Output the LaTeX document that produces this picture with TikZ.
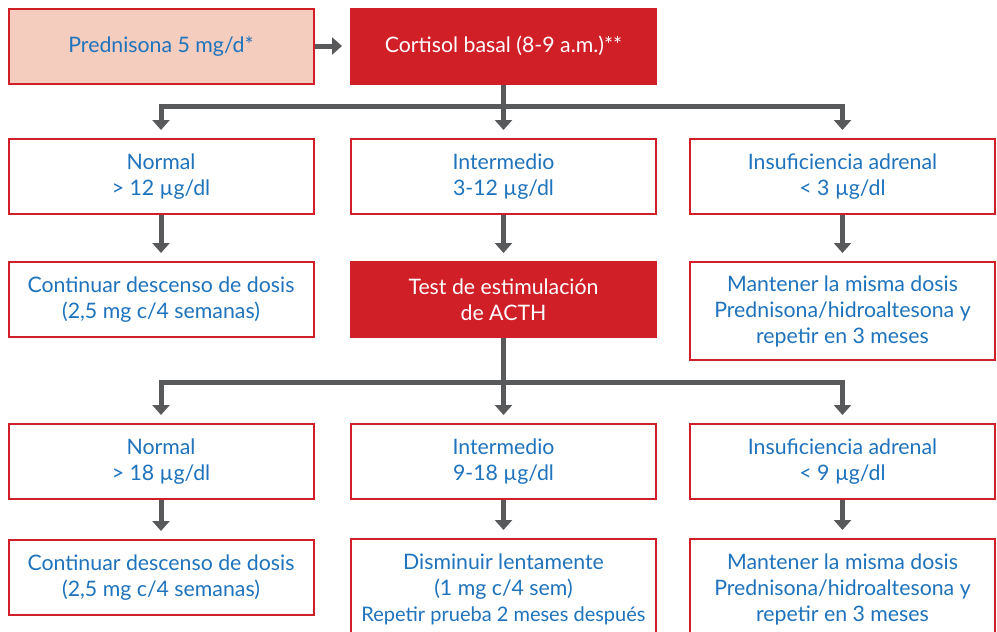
\documentclass[tikz,border=0pt]{standalone}
\usepackage{fontspec}
\setmainfont{Lato}
\usetikzlibrary{arrows.meta}
\definecolor{cred}{HTML}{D11F27}
\definecolor{cblue}{HTML}{1E73BC}
\definecolor{cgray}{HTML}{58595B}
\definecolor{cpeach}{HTML}{F4CDBF}
\tikzset{
  box/.style={draw=cred, line width=2pt, fill=white, text=cblue, align=center,
    minimum width=305pt, minimum height=75pt, inner sep=0pt,
    font=\fontsize{21.3}{26}\selectfont},
  redbox/.style={box, fill=cred, text=white},
  peachbox/.style={box, fill=cpeach},
  conn/.style={draw=cgray, line width=5pt, line join=miter},
  arr/.style={conn, -{Triangle[width=17pt,length=10pt]}, shorten >=8pt},
}
\begin{document}
\begin{tikzpicture}[x=1pt,y=-1pt]
\clip (0,0) rectangle (997,632);
\fill[white] (0,0) rectangle (997,632);
% row 1
\node[peachbox] (pred) at (161,46) {Prednisona 5 mg/d*};
\node[redbox] (cort) at (503.5,46) {Cortisol basal (8-9 a.m.)**};
% row 2
\node[box] (n1) at (161,176.5) {Normal\\> 12 µg/dl};
\node[box] (n2) at (503.5,176.5) {Intermedio\\3-12 µg/dl};
\node[box] (n3) at (842.5,176.5) {Insuficiencia adrenal\\< 3 µg/dl};
% row 3
\node[box] (r1) at (161,299.5) {Continuar descenso de dosis\\(2,5 mg c/4 semanas)};
\node[redbox] (r2) at (503.5,299.5) {Test de estimulación\\de ACTH};
\node[box, minimum height=98pt] (r3) at (842.5,311) {Mantener la misma dosis\\Prednisona/hidroaltesona y\\repetir en 3 meses};
% row 4
\node[box] (m1) at (161,461.5) {Normal\\> 18 µg/dl};
\node[box] (m2) at (503.5,461.5) {Intermedio\\9-18 µg/dl};
\node[box] (m3) at (842.5,461.5) {Insuficiencia adrenal\\< 9 µg/dl};
% row 5
\node[box] (b1) at (161,577.5) {Continuar descenso de dosis\\(2,5 mg c/4 semanas)};
\node[box, minimum height=100pt] (b2) at (503.5,589) {Disminuir lentamente\\(1 mg c/4 sem)\\{\fontsize{20}{26}\selectfont Repetir prueba 2 meses después}};
\node[box, minimum height=100pt] (b3) at (842.5,589) {Mantener la misma dosis\\Prednisona/hidroaltesona y\\repetir en 3 meses};
% connectors
\draw[arr] (pred.east) -- (cort.west);
\draw[conn] (cort.south) -- ++(0,22) coordinate (j1);
\draw[arr] (j1) -| (n1.north);
\draw[arr] (j1) -| (n3.north);
\draw[arr] (j1) -- (n2.north);
\draw[arr] (n1.south) -- (r1.north);
\draw[arr] (n2.south) -- (r2.north);
\draw[arr] (n3.south) -- (r3.north);
\draw[conn] (r2.south) -- ++(0,44) coordinate (j2);
\draw[arr] (j2) -| (m1.north);
\draw[arr] (j2) -| (m3.north);
\draw[arr] (j2) -- (m2.north);
\draw[arr] (m1.south) -- (b1.north);
\draw[arr] (m2.south) -- (b2.north);
\draw[arr] (m3.south) -- (b3.north);
\end{tikzpicture}
\end{document}
